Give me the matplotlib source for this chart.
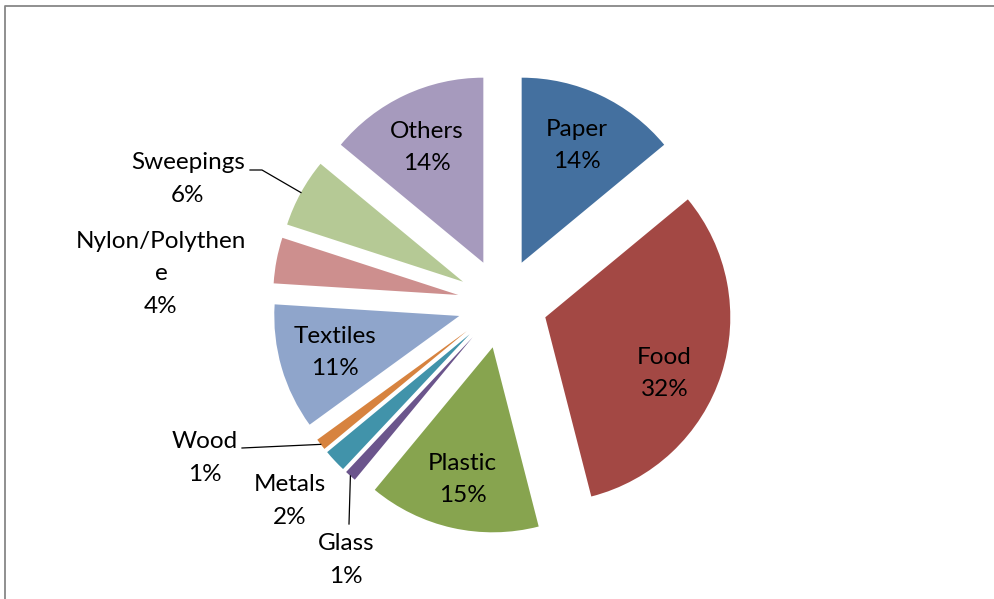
import math
import matplotlib
matplotlib.use("Agg")
import matplotlib.pyplot as plt
from matplotlib.lines import Line2D

plt.rcParams['font.family'] = ['Lato', 'DejaVu Sans']

# data
categories = ['Paper', 'Food', 'Plastic', 'Glass', 'Metals', 'Wood',
              'Textiles', 'Nylon/Polythene', 'Sweepings', 'Others']
shares = [14, 32, 15, 1, 2, 1, 11, 4, 6, 14]
label_names = ['Paper', 'Food', 'Plastic', 'Glass', 'Metals', 'Wood',
               'Textiles', 'Nylon/Polythen\ne', 'Sweepings', 'Others']
colors = ['#44709F', '#A34844', '#87A44F', '#6B558C', '#4193AA', '#D7833F',
          '#8FA5CB', '#CD8F8E', '#B5C995', '#A69ABD']

# layout (pixels)
W, H = 995, 599
cx, cy = 502.5, 303.4   # pie centre
R = 185.0               # radius
gap = 45.0              # explode distance
FS = 17.5
LS = 1.65
# outside labels: text centre in pixels, and leader start (None = no leader)
outside = {
    'Sweepings': ((188, 179), [(250, 170), (262, 170)]),
    'Nylon/Polythene': ((161, 274), None),
    'Wood': ((205, 458), [(242, 448)]),
    'Metals': ((290, 501), None),
    'Glass': ((346, 560), [(349, 524)]),
}
# small nudges of inside labels (pixels)
nudge = {'Food': (-4, 16), 'Plastic': (-2, 6), 'Others': (-1, 2)}

fig = plt.figure(figsize=(W / 100, H / 100), dpi=100)
ax = fig.add_axes([0, 0, 1, 1])

wedges, _ = ax.pie(shares, colors=colors, startangle=90, counterclock=False,
                   radius=1, center=(0, 0), explode=[gap / R] * len(shares),
                   wedgeprops=dict(linewidth=0))
ax.set_xlim(-cx / R, (W - cx) / R)
ax.set_ylim(-(H - cy) / R, cy / R)
ax.set_aspect('auto')
ax.axis('off')


def px(p):
    return ((p[0] - cx) / R, (cy - p[1]) / R)


for w, name, lab, v in zip(wedges, categories, label_names, shares):
    mid = math.radians((w.theta1 + w.theta2) / 2)
    ux, uy = math.cos(mid), math.sin(mid)
    wx, wy = w.center
    txt = f'{lab}\n{v}%'
    if name in outside:
        pos, lead = outside[name]
        ax.text(*px(pos), txt, ha='center', va='center', fontsize=FS,
                linespacing=LS, color='black')
        if lead:
            pts = [px(p) for p in lead] + [(wx + ux, wy + uy)]
            ax.plot([p[0] for p in pts], [p[1] for p in pts], color='black',
                    lw=0.9)
    else:
        dx, dy = nudge.get(name, (0, 0))
        ax.text(wx + 0.7 * ux + dx / R, wy + 0.7 * uy - dy / R, txt,
                ha='center', va='center', fontsize=FS, linespacing=LS,
                color='black')

# chart border
fig.add_artist(Line2D([5 / W, 5 / W, 1], [0, 1 - 6 / H, 1 - 6 / H],
                      transform=fig.transFigure, color='#878787', lw=1.3))

fig.savefig('out.png', dpi=100)
